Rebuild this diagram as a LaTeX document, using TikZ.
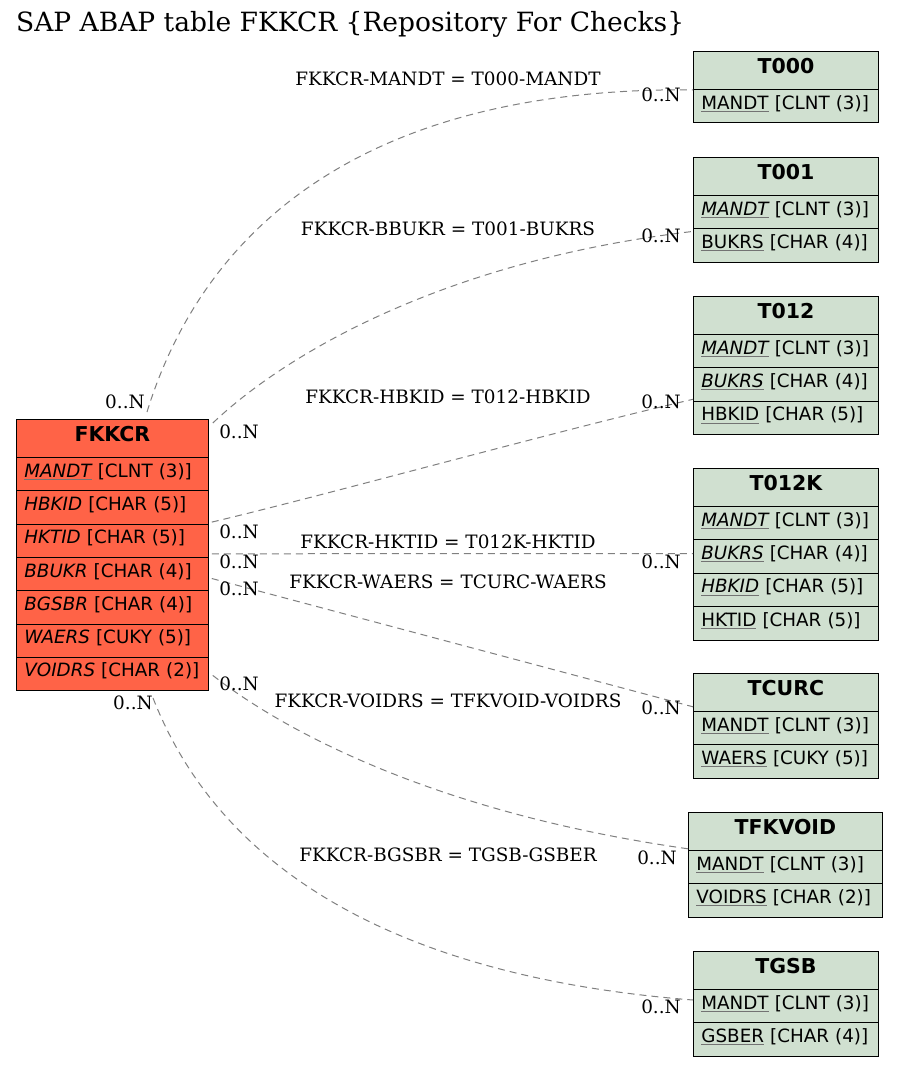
\documentclass[tikz,border=0pt]{standalone}
\usepackage{fontspec}
\setmainfont{DejaVu Serif}
\newfontfamily\sansf{DejaVu Sans}
\newfontfamily\titlef{DejaVu Serif}
\definecolor{fkred}{HTML}{FF6347}
\definecolor{tgreen}{HTML}{D0E0D0}
\definecolor{edgegray}{HTML}{808080}
\newcommand\keyf[1]{\setbox0\hbox{#1}\rlap{\textcolor{black!55}{\rule[-2.6pt]{\wd0}{0.9pt}}}\box0\relax}
\tikzset{
  hdr/.style={draw=black, line width=0.8pt, anchor=north west, inner sep=0pt,
    minimum height=38pt, text width=#1, align=center, text height=15pt, text depth=8pt,
    font=\sansf\bfseries\fontsize{20.5}{22}\selectfont},
  rowc/.style={draw=black, line width=0.8pt, anchor=north west, inner ysep=0pt,
    inner xsep=8pt, minimum height=33.4pt, text width=#1, align=left, text height=14pt, text depth=8pt,
    font=\sansf\fontsize{18.3}{20}\selectfont},
  edgec/.style={draw=edgegray, line width=1pt, dash pattern=on 7pt off 5pt},
  lab/.style={font=\fontsize{18.4}{20}\selectfont, inner sep=0pt},
  card/.style={font=\fontsize{18.4}{20}\selectfont, inner sep=0pt}
}
\begin{document}
\begin{tikzpicture}[x=1pt,y=-1pt]
\useasboundingbox[fill=white] (0,0) rectangle (897,1066);
\node[anchor=base west, inner sep=0pt, font=\titlef\fontsize{26.5}{28}\selectfont] (title) at (16,31) {SAP ABAP table FKKCR \{Repository For Checks\}};

% FKKCR
\node[hdr=192pt, fill=fkred] (fkh) at (16,419) {FKKCR};
\node[rowc=176pt, fill=fkred] (fkr1) at (16,457) {\keyf{\itshape MANDT} [CLNT (3)]};
\node[rowc=176pt, fill=fkred] (fkr2) at (16,490.3) {{\itshape HBKID} [CHAR (5)]};
\node[rowc=176pt, fill=fkred] (fkr3) at (16,523.6) {{\itshape HKTID} [CHAR (5)]};
\node[rowc=176pt, fill=fkred] (fkr4) at (16,556.9) {{\itshape BBUKR} [CHAR (4)]};
\node[rowc=176pt, fill=fkred] (fkr5) at (16,590.2) {{\itshape BGSBR} [CHAR (4)]};
\node[rowc=176pt, fill=fkred] (fkr6) at (16,623.5) {{\itshape WAERS} [CUKY (5)]};
\node[rowc=176pt, fill=fkred] (fkr7) at (16,656.8) {{\itshape VOIDRS} [CHAR (2)]};

% T000
\node[hdr=185pt, fill=tgreen] (t000h) at (693,51) {T000};
\node[rowc=169pt, fill=tgreen] (t000r1) at (693,89) {\keyf{MANDT} [CLNT (3)]};
% T001
\node[hdr=185pt, fill=tgreen] (t001h) at (693,157) {T001};
\node[rowc=169pt, fill=tgreen] (t001r1) at (693,195) {\keyf{\itshape MANDT} [CLNT (3)]};
\node[rowc=169pt, fill=tgreen] (t001r2) at (693,228.4) {\keyf{BUKRS} [CHAR (4)]};
% T012
\node[hdr=185pt, fill=tgreen] (t012h) at (693,296) {T012};
\node[rowc=169pt, fill=tgreen] (t012r1) at (693,334) {\keyf{\itshape MANDT} [CLNT (3)]};
\node[rowc=169pt, fill=tgreen] (t012r2) at (693,367.4) {\keyf{\itshape BUKRS} [CHAR (4)]};
\node[rowc=169pt, fill=tgreen] (t012r3) at (693,400.8) {\keyf{HBKID} [CHAR (5)]};
% T012K
\node[hdr=185pt, fill=tgreen] (t012kh) at (693,468) {T012K};
\node[rowc=169pt, fill=tgreen] (t012kr1) at (693,506) {\keyf{\itshape MANDT} [CLNT (3)]};
\node[rowc=169pt, fill=tgreen] (t012kr2) at (693,539.4) {\keyf{\itshape BUKRS} [CHAR (4)]};
\node[rowc=169pt, fill=tgreen] (t012kr3) at (693,572.8) {\keyf{\itshape HBKID} [CHAR (5)]};
\node[rowc=169pt, fill=tgreen] (t012kr4) at (693,606.2) {\keyf{HKTID} [CHAR (5)]};
% TCURC
\node[hdr=185pt, fill=tgreen] (tcurch) at (693,673) {TCURC};
\node[rowc=169pt, fill=tgreen] (tcurcr1) at (693,711) {\keyf{MANDT} [CLNT (3)]};
\node[rowc=169pt, fill=tgreen] (tcurcr2) at (693,744.4) {\keyf{WAERS} [CUKY (5)]};
% TFKVOID
\node[hdr=194pt, fill=tgreen] (tfkvoidh) at (688,812) {TFKVOID};
\node[rowc=178pt, fill=tgreen] (tfkvoidr1) at (688,850) {\keyf{MANDT} [CLNT (3)]};
\node[rowc=178pt, fill=tgreen] (tfkvoidr2) at (688,883.4) {\keyf{VOIDRS} [CHAR (2)]};
% TGSB
\node[hdr=185pt, fill=tgreen] (tgsbh) at (693,951) {TGSB};
\node[rowc=169pt, fill=tgreen] (tgsbr1) at (693,989) {\keyf{MANDT} [CLNT (3)]};
\node[rowc=169pt, fill=tgreen] (tgsbr2) at (693,1022.4) {\keyf{GSBER} [CHAR (4)]};

% edges
\draw[edgec] ([xshift=131pt,yshift=7pt]fkh.north west) .. controls (200,240) and (350,87) .. (t000h.south west);
\draw[edgec] ([xshift=4pt,yshift=-4pt]fkh.north east) .. controls (290,350) and (450,260) .. ([yshift=-3pt]t001r2.north west);
\draw[edgec] ([xshift=3pt,yshift=1.5pt]fkr3.north east) .. controls (330,494) and (560,430) .. ([yshift=1.5pt]t012r3.north west);
\draw[edgec] ([xshift=3pt,yshift=4pt]fkr3.south east) -- ([yshift=3pt]t012kr2.west);
\draw[edgec] ([xshift=3pt,yshift=-4.5pt]fkr4.east) -- ([yshift=5pt]tcurch.south west);
\draw[edgec] ([xshift=4pt,yshift=-1.5pt]fkr7.east) .. controls (280,728) and (430,812) .. ([yshift=2pt]tfkvoidh.south west);
\draw[edgec] ([xshift=137pt,yshift=-7pt]fkr7.south west) .. controls (195,805) and (310,970) .. ([yshift=-11pt]tgsbr1.north west);

% edge labels
\node[lab] (l1) at (448,79) {FKKCR-MANDT = T000-MANDT};
\node[lab] (l2) at (448,229) {FKKCR-BBUKR = T001-BUKRS};
\node[lab] (l3) at (448,397) {FKKCR-HBKID = T012-HBKID};
\node[lab] (l4) at (448,542) {FKKCR-HKTID = T012K-HKTID};
\node[lab] (l5) at (448,582) {FKKCR-WAERS = TCURC-WAERS};
\node[lab] (l6) at (448,701) {FKKCR-VOIDRS = TFKVOID-VOIDRS};
\node[lab] (l7) at (448,855) {FKKCR-BGSBR = TGSB-GSBER};

% cardinalities
\node[card] (c1a) at (125,402) {0..N};
\node[card] (c1b) at (661,95) {0..N};
\node[card] (c2a) at (239,432) {0..N};
\node[card] (c2b) at (661,236) {0..N};
\node[card] (c3a) at (239,532) {0..N};
\node[card] (c3b) at (661,402) {0..N};
\node[card] (c4a) at (239,562) {0..N};
\node[card] (c4b) at (661,562) {0..N};
\node[card] (c5a) at (239,589) {0..N};
\node[card] (c5b) at (661,708) {0..N};
\node[card] (c6a) at (239,684) {0..N};
\node[card] (c6b) at (657,858) {0..N};
\node[card] (c7a) at (133,703) {0..N};
\node[card] (c7b) at (661,1007) {0..N};
\end{tikzpicture}
\end{document}
